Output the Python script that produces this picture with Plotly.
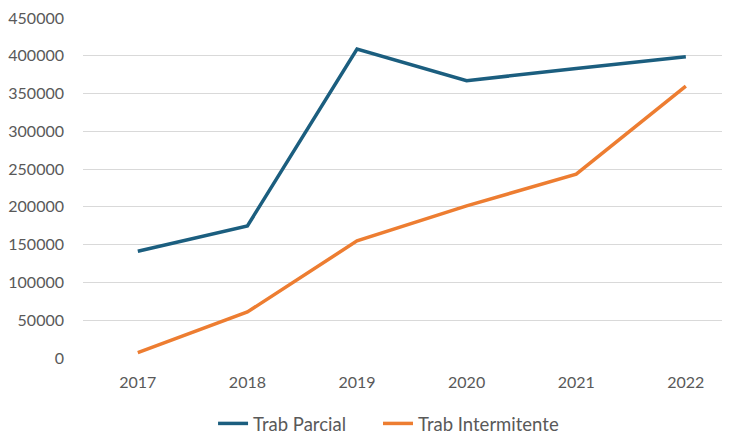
import plotly.graph_objects as go

years = ["2017", "2018", "2019", "2020", "2021", "2022"]
trab_parcial = [141300, 174800, 408900, 366900, 383300, 398700]
trab_intermitente = [7200, 60900, 155000, 201300, 243300, 359900]
y_ticks = [0, 50000, 100000, 150000, 200000, 250000, 300000, 350000, 400000, 450000]

FONT = "Lato"
GRAY = "#595959"

fig = go.Figure()
fig.add_trace(go.Scatter(x=years, y=trab_parcial, mode="lines", name="Trab Parcial",
                         line=dict(color="#1B5E7F", width=3.5), legend="legend"))
fig.add_trace(go.Scatter(x=years, y=trab_intermitente, mode="lines", name="Trab Intermitente",
                         line=dict(color="#ED7D31", width=3.5), legend="legend2"))

leg_common = dict(orientation="h", xref="container", yref="container",
                  xanchor="left", y=0.026, yanchor="middle",
                  font=dict(family=FONT, size=18.5, color=GRAY), itemwidth=30)

# page body has an 8px default margin, so the figure is sized to fit the window
fig.update_layout(
    width=722, height=427,
    margin=dict(l=75, r=0, t=10, b=77),
    paper_bgcolor="white", plot_bgcolor="white",
    font=dict(family=FONT, size=16, color=GRAY),
    showlegend=True,
    legend=dict(x=0.284, **leg_common),
    legend2=dict(x=0.5125, **leg_common),
    xaxis=dict(type="category", range=[-0.5, 5.403], showgrid=False, showline=False,
               zeroline=False, ticks="", ticklabelstandoff=13, automargin=False),
    yaxis=dict(range=[0, 450000], tickvals=y_ticks, ticktext=[str(v) for v in y_ticks],
               showgrid=True, gridcolor="#D9D9D9", gridwidth=1, zeroline=False,
               showline=False, ticks="", ticklabelstandoff=18, automargin=False,
               ticklabeloverflow="allow"),
)

fig.write_html("out.html")
